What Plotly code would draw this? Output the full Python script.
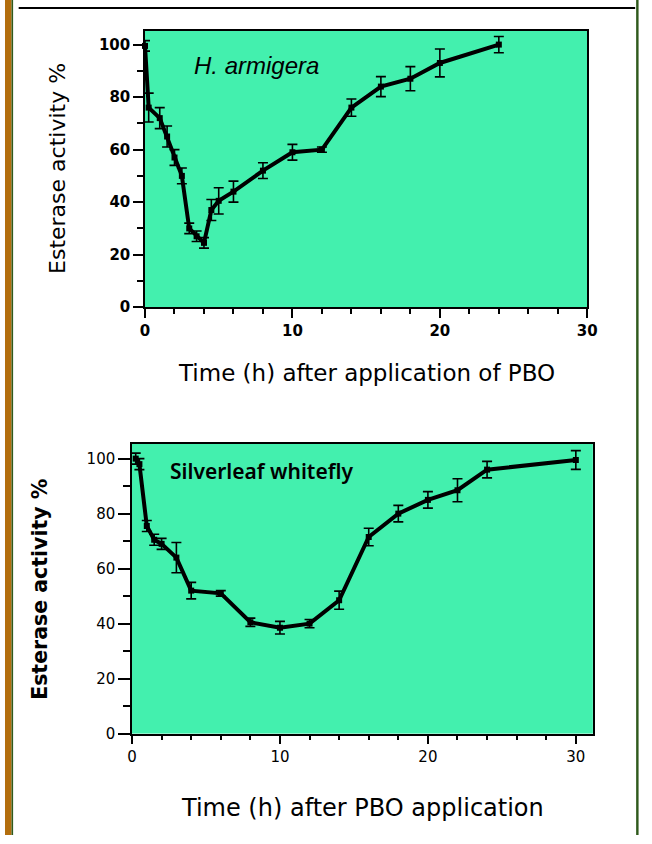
import plotly.graph_objects as go

# Panel 1: H. armigera
t1 = [0, 0.25, 1, 1.5, 2, 2.5, 3, 3.5, 4, 4.5, 5, 6, 8, 10, 12, 14, 16, 18, 20, 24]
v1 = [99.5, 76, 72, 65, 57, 50, 30, 27, 24.5, 37, 40.5, 44, 52, 59, 60, 76, 84, 87, 93, 100]
e1 = [2, 5.5, 4, 4, 3, 3, 2, 2, 2, 4, 5, 4, 3, 3, 1, 3.3, 3.8, 4.6, 5.3, 3.1]

# Panel 2: Silverleaf whitefly
t2 = [0.25, 0.5, 1, 1.5, 2, 3, 4, 6, 8, 10, 12, 14, 16, 18, 20, 22, 24, 30]
v2 = [100, 98, 75.5, 70.5, 69, 64, 52, 51, 40.5, 38.5, 40, 48.5, 71.5, 80, 85, 88.5, 96, 99.5]
e2 = [2, 2, 2, 2, 2, 5.5, 3, 1, 1.5, 2.3, 1.5, 3.3, 3.2, 3, 3, 4.2, 3, 3.4]

W, H = 652, 844
GREEN = "#43F0AE"

def px(x):
    return x / W

def py(y):
    return 1 - y / H

fig = go.Figure()

fig.add_trace(go.Scatter(
    x=t1, y=v1, mode="lines+markers", xaxis="x", yaxis="y",
    line=dict(color="black", width=4),
    marker=dict(symbol="square", size=6, color="black"),
    error_y=dict(type="data", array=e1, visible=True, color="black", thickness=1.6, width=5),
    showlegend=False, cliponaxis=False))

fig.add_trace(go.Scatter(
    x=t2, y=v2, mode="lines+markers", xaxis="x2", yaxis="y2",
    line=dict(color="black", width=4),
    marker=dict(symbol="square", size=6, color="black"),
    error_y=dict(type="data", array=e2, visible=True, color="black", thickness=1.6, width=5),
    showlegend=False, cliponaxis=False))

tick1 = dict(family="DejaVu Sans", size=15, color="black", weight="bold")
tick2 = dict(family="DejaVu Sans", size=15, color="black")

common = dict(showgrid=False, zeroline=False, showline=True, mirror=True,
              linecolor="black", linewidth=1.5, ticks="outside",
              tickcolor="black", tickwidth=1.5, fixedrange=True)

fig.update_layout(
    autosize=True, margin=dict(l=0, r=0, t=0, b=0, pad=0),
    paper_bgcolor="white", plot_bgcolor=GREEN,
    xaxis=dict(domain=[px(143.3), px(596)], range=[0, 30], anchor="y",
               tickvals=[0, 10, 20, 30], ticklen=9, tickfont=tick1,
               minor=dict(dtick=2, ticks="outside", ticklen=5, tickcolor="black", tickwidth=1.5),
               **common),
    yaxis=dict(domain=[py(310.5), py(31)], range=[0, 105.3], anchor="x",
               tickvals=[0, 20, 40, 60, 80, 100], ticklen=10, tickfont=tick1,
               minor=dict(dtick=10, ticks="outside", ticklen=6, tickcolor="black", tickwidth=1.5),
               **common),
    xaxis2=dict(domain=[px(130), px(601.7)], range=[0, 31.15], anchor="y2",
                tickvals=[0, 10, 20, 30], ticklen=9, tickfont=tick2,
                minor=dict(dtick=2, ticks="outside", ticklen=5, tickcolor="black", tickwidth=1.5),
                **common),
    yaxis2=dict(domain=[py(741.5), py(448.3)], range=[0, 105.5], anchor="x2",
                tickvals=[0, 20, 40, 60, 80, 100], ticklen=12, tickfont=tick2,
                minor=dict(dtick=10, ticks="outside", ticklen=7, tickcolor="black", tickwidth=1.5),
                **common),
)

ann = [
    dict(x=px(257), y=py(66), text="H. armigera",
         font=dict(family="Liberation Sans", size=24, color="black", style="italic")),
    dict(x=px(263), y=py(476), text="Silverleaf whitefly",
         font=dict(family="Noto Sans", size=21, color="black", weight=600)),
    dict(x=px(370), y=py(377), text="Time (h) after application of PBO",
         font=dict(family="DejaVu Sans", size=23, color="black")),
    dict(x=px(366), y=py(817), text="Time (h) after PBO application",
         font=dict(family="DejaVu Sans", size=24, color="black")),
    dict(x=px(53), y=py(170), text="Esterase activity %", textangle=-90,
         font=dict(family="DejaVu Sans", size=22, color="black")),
    dict(x=px(35), y=py(596), text="Esterase activity %", textangle=-90,
         font=dict(family="DejaVu Sans", size=20.5, color="black", weight="bold")),
]
for a in ann:
    a.update(xref="paper", yref="paper", showarrow=False, xanchor="center", yanchor="middle")
fig.update_layout(annotations=ann)

shapes = [
    dict(type="rect", x0=0, x1=px(6.7), y0=0, y1=1, fillcolor="#B36E0E", line=dict(width=0)),
    dict(type="rect", x0=px(6.7), x1=px(8.3), y0=0, y1=1, fillcolor="#2F5A1C", line=dict(width=0)),
    dict(type="rect", x0=px(646), x1=px(648.5), y0=0, y1=1, fillcolor="#2F5A1C", line=dict(width=0)),
    dict(type="line", x0=px(14), x1=px(645), y0=py(8), y1=py(8), line=dict(color="black", width=2)),
]
for s in shapes:
    s.update(xref="paper", yref="paper")
fig.update_layout(shapes=shapes)

post = ("document.documentElement.style.margin='0';"
        "document.body.style.margin='0';"
        "document.documentElement.style.overflow='hidden';"
        "document.body.style.overflow='hidden';"
        "var gd=document.getElementById('{plot_id}');"
        "gd.style.width='100vw';gd.style.height='100vh';"
        "Plotly.Plots.resize(gd);")

fig.write_html("out.html", config={"displayModeBar": False, "responsive": True},
               default_width="100vw", default_height="100vh", post_script=post)
